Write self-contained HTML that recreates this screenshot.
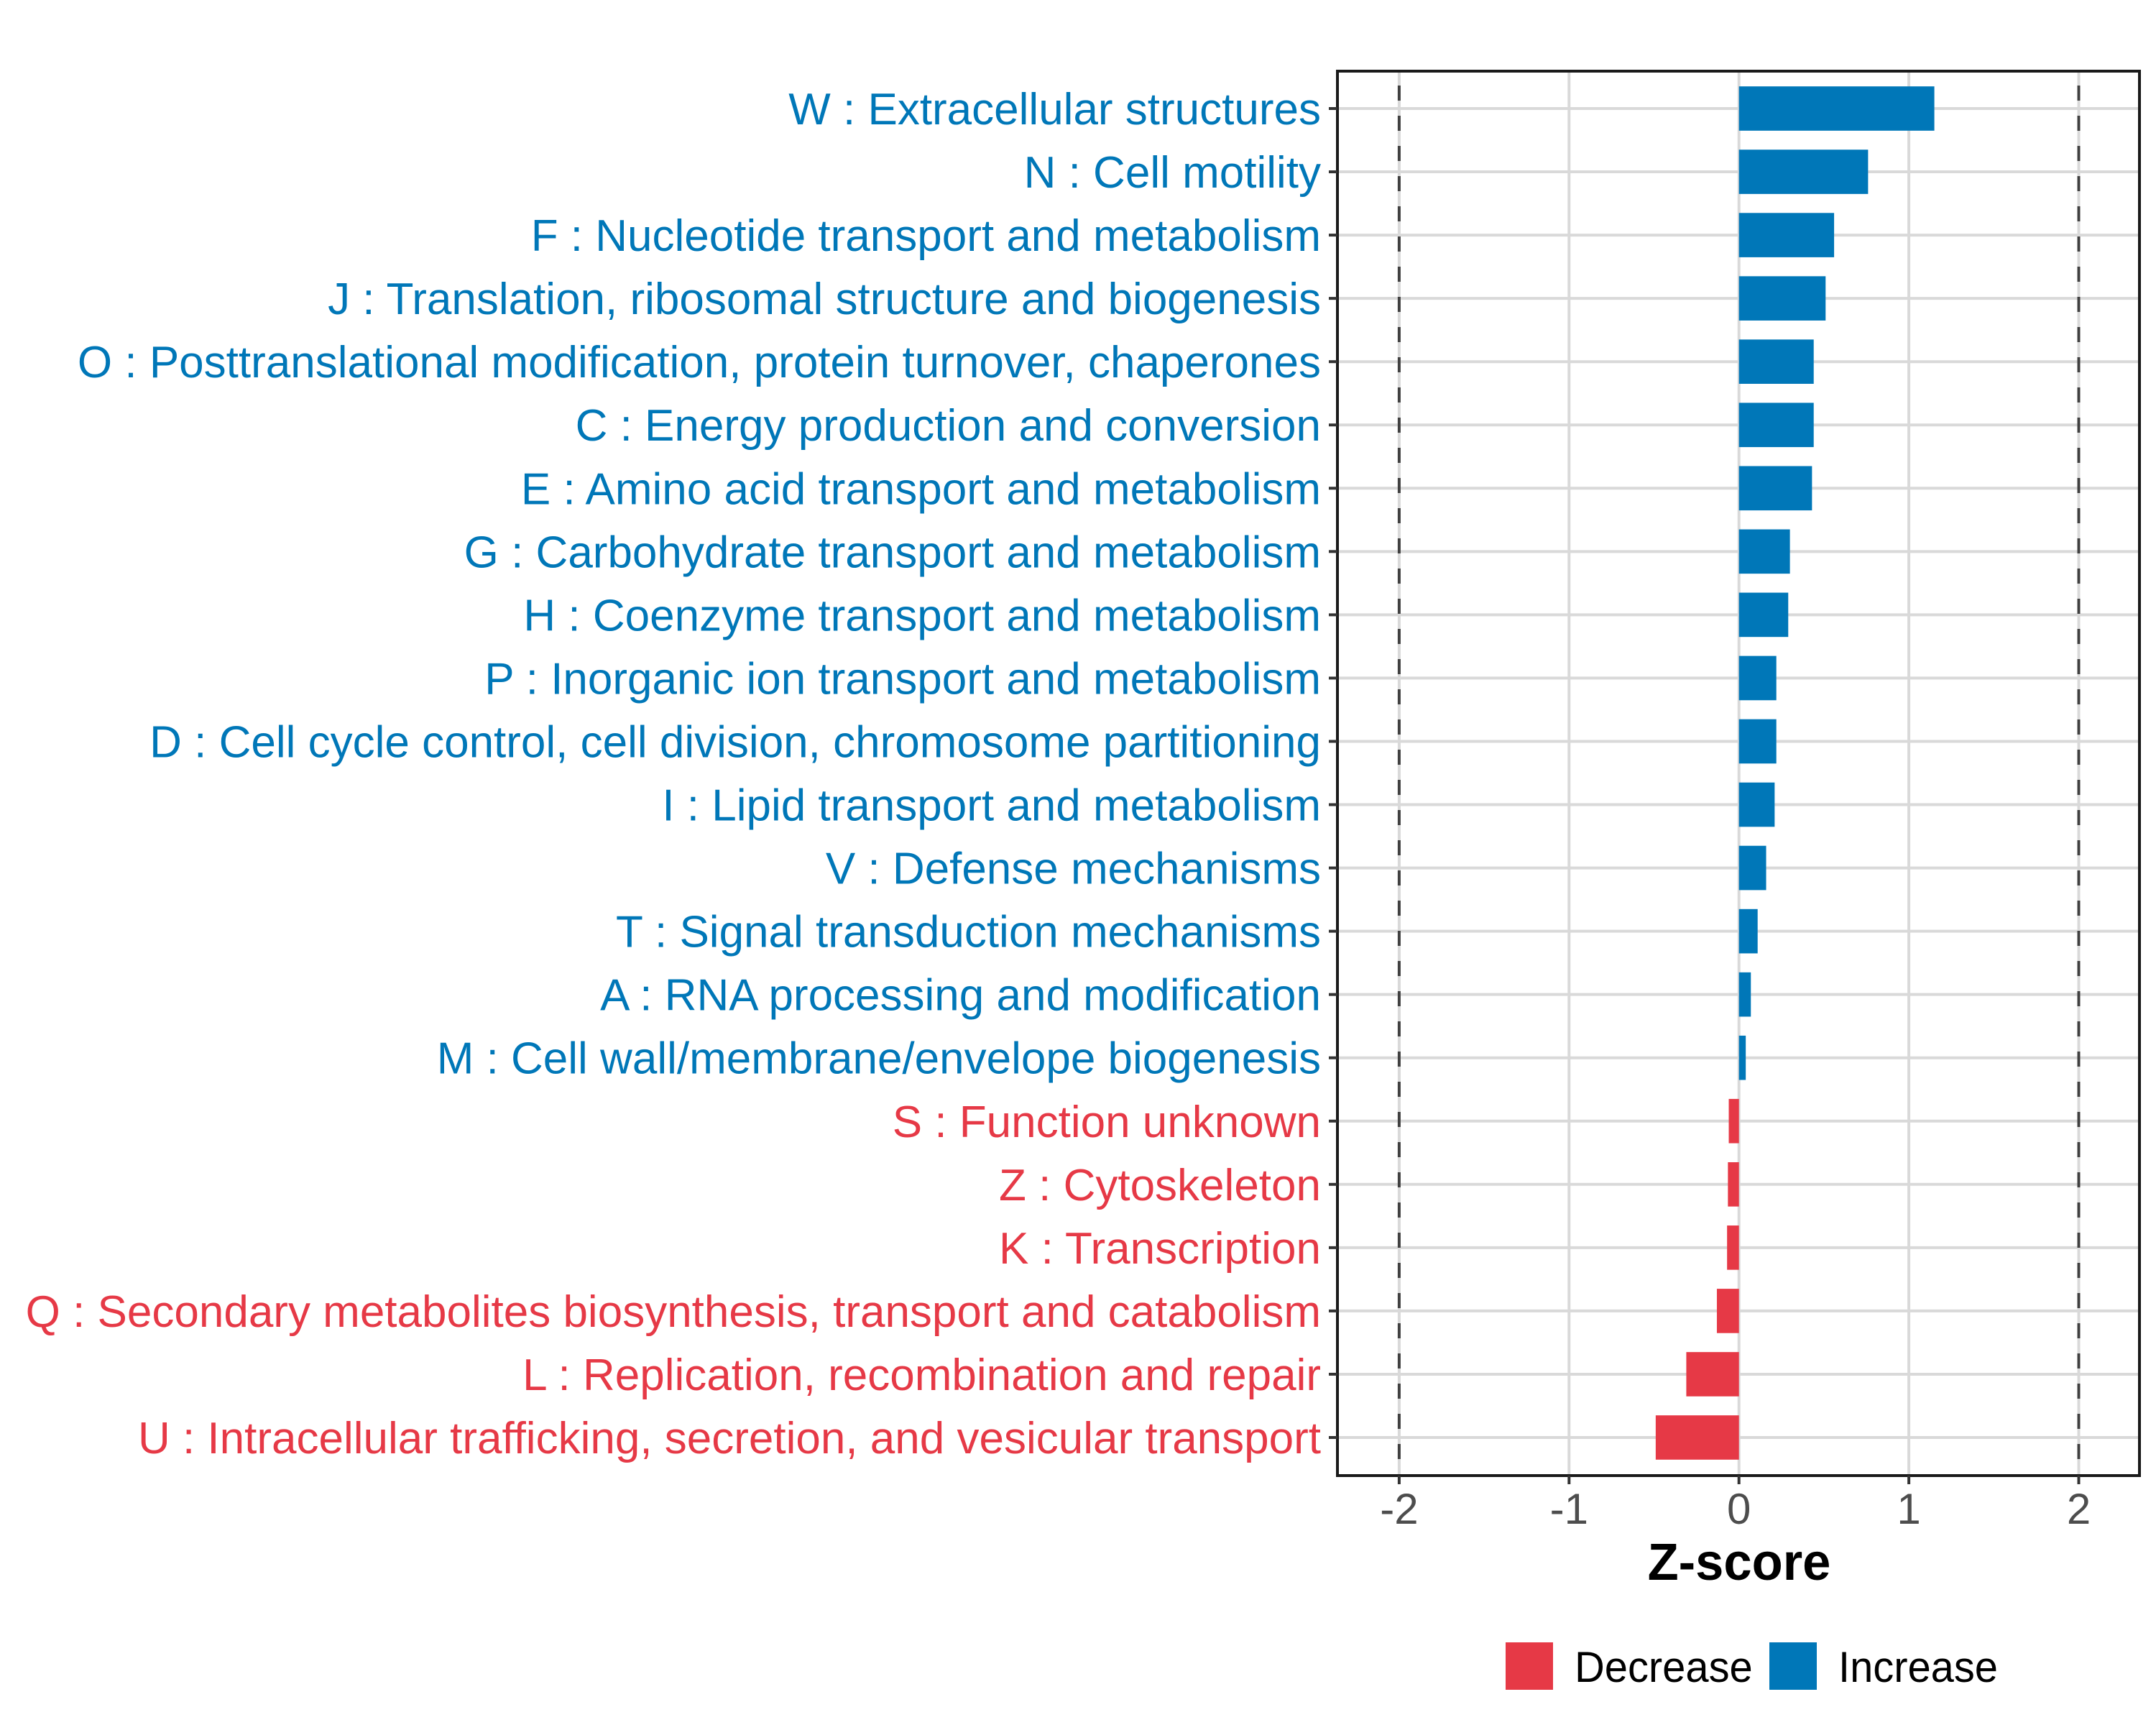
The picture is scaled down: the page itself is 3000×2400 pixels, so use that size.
<!DOCTYPE html>
<html><head><meta charset="utf-8"><style>
html,body{margin:0;padding:0;background:#fff;}
svg{display:block;font-family:"Liberation Sans",Arial,sans-serif;}
</style></head><body>
<svg id="chart" width="3000" height="2400" viewBox="0 0 3000 2400" xmlns="http://www.w3.org/2000/svg">
<rect x="0" y="0" width="3000" height="2400" fill="#fff"/>
<g id="grid"></g><g id="bars"></g><g id="labels"></g><g id="xaxis"></g>
<text id="xtitle" x="2420" y="2198" font-size="72" font-weight="bold" text-anchor="middle" fill="#000">Z-score</text>
<g>
<rect x="2095" y="2285" width="66" height="66" fill="#E63946"/>
<text class="cond leg" x="2191" y="2340" font-size="60" fill="#000">Decrease</text>
<rect x="2462" y="2285" width="66" height="66" fill="#0077B8"/>
<text class="cond leg" x="2558" y="2340" font-size="60" fill="#000">Increase</text>
</g>
</svg>
<script>
const categories = [
"W : Extracellular structures",
"N : Cell motility",
"F : Nucleotide transport and metabolism",
"J : Translation, ribosomal structure and biogenesis",
"O : Posttranslational modification, protein turnover, chaperones",
"C : Energy production and conversion",
"E : Amino acid transport and metabolism",
"G : Carbohydrate transport and metabolism",
"H : Coenzyme transport and metabolism",
"P : Inorganic ion transport and metabolism",
"D : Cell cycle control, cell division, chromosome partitioning",
"I : Lipid transport and metabolism",
"V : Defense mechanisms",
"T : Signal transduction mechanisms",
"A : RNA processing and modification",
"M : Cell wall/membrane/envelope biogenesis",
"S : Function unknown",
"Z : Cytoskeleton",
"K : Transcription",
"Q : Secondary metabolites biosynthesis, transport and catabolism",
"L : Replication, recombination and repair",
"U : Intracellular trafficking, secretion, and vesicular transport"
];
const zscores = [1.15,0.76,0.56,0.51,0.44,0.44,0.43,0.30,0.29,0.22,0.22,0.21,0.16,0.11,0.07,0.04,-0.06,-0.065,-0.07,-0.13,-0.31,-0.49];
const xTicks = [-2,-1,0,1,2];
const xTickLabels = ["-2","-1","0","1","2"];
const thresholds = [-2,2];

const NS="http://www.w3.org/2000/svg";
const P={l:1861,r:2977,t:99,b:2053};
const X0=2419.7, UNIT=236.4;
function xs(v){return X0+v*UNIT;}
const STEP=(2000-151)/21;
function ys(i){return 151+i*STEP;}
const BLUE="#0077B8", RED="#E63946";
function mk(tag,attrs,parent){const e=document.createElementNS(NS,tag);for(const k in attrs)e.setAttribute(k,attrs[k]);parent.appendChild(e);return e;}
const grid=document.getElementById('grid'),bars=document.getElementById('bars'),labels=document.getElementById('labels'),xaxis=document.getElementById('xaxis');

xTicks.forEach((t,i)=>{
  const g=mk('line',{x1:xs(t),x2:xs(t),y1:P.t,y2:P.b,stroke:'#D9D9D9','stroke-width':4},grid);
  
  
});
categories.forEach((c,i)=>{
  const g=mk('line',{x1:P.l,x2:P.r,y1:ys(i),y2:ys(i),stroke:'#D9D9D9','stroke-width':4},grid);
  
  
});
thresholds.forEach(t=>{
  const d=mk('line',{x1:xs(t),x2:xs(t),y1:P.t,y2:P.b,stroke:'#404040','stroke-width':4,'stroke-dasharray':'21 21','stroke-dashoffset':'-20'},grid);
  
  
});
const BH=STEP*0.7;
categories.forEach((c,i)=>{
  const v=zscores[i];
  const x1=Math.min(xs(0),xs(v)),w=Math.abs(xs(v)-xs(0));
  const r=mk('rect',{x:x1,y:ys(i)-BH/2,width:w,height:BH,fill:v>=0?BLUE:RED},bars);
  
  
});
const border=mk('rect',{x:P.l,y:P.t,width:P.r-P.l,height:P.b-P.t,fill:'none',stroke:'#1a1a1a','stroke-width':4},bars);



const LABEL_END=1838;
const ylabelEls=[];
categories.forEach((c,i)=>{
  const tk=mk('line',{x1:P.l-12,x2:P.l,y1:ys(i),y2:ys(i),stroke:'#333','stroke-width':4},labels);
  
  
  const t=mk('text',{x:LABEL_END,y:ys(i)+22,'font-size':62,'text-anchor':'end',fill:zscores[i]>=0?BLUE:RED,class:'cond'},labels);
  t.textContent=c;
  
  
  ylabelEls.push(t);
});
xTicks.forEach((t,i)=>{
  const tk=mk('line',{x1:xs(t),x2:xs(t),y1:P.b,y2:P.b+12,stroke:'#333','stroke-width':4},xaxis);
  
  
  const tx=mk('text',{x:xs(t),y:2120,'font-size':60,'text-anchor':'middle',fill:'#4d4d4d',class:'cond'},xaxis);
  tx.textContent=xTickLabels[i];
  
  
});
const qEl=ylabelEls[19];
const w=qEl.getComputedTextLength();
const f=Math.min(1,(LABEL_END-23)/w);
document.querySelectorAll('.cond').forEach(el=>{
  const ax=parseFloat(el.getAttribute('x'));
  const ff=el.classList.contains('leg')?f*0.965:f;
  el.setAttribute('transform','translate('+ax+',0) scale('+ff+',1) translate('+(-ax)+',0)');
});
const tt=document.getElementById('xtitle');
tt.setAttribute('transform','translate(2420,0) scale('+(f*0.98)+',1) translate(-2420,0)');
</script>
</body></html>
